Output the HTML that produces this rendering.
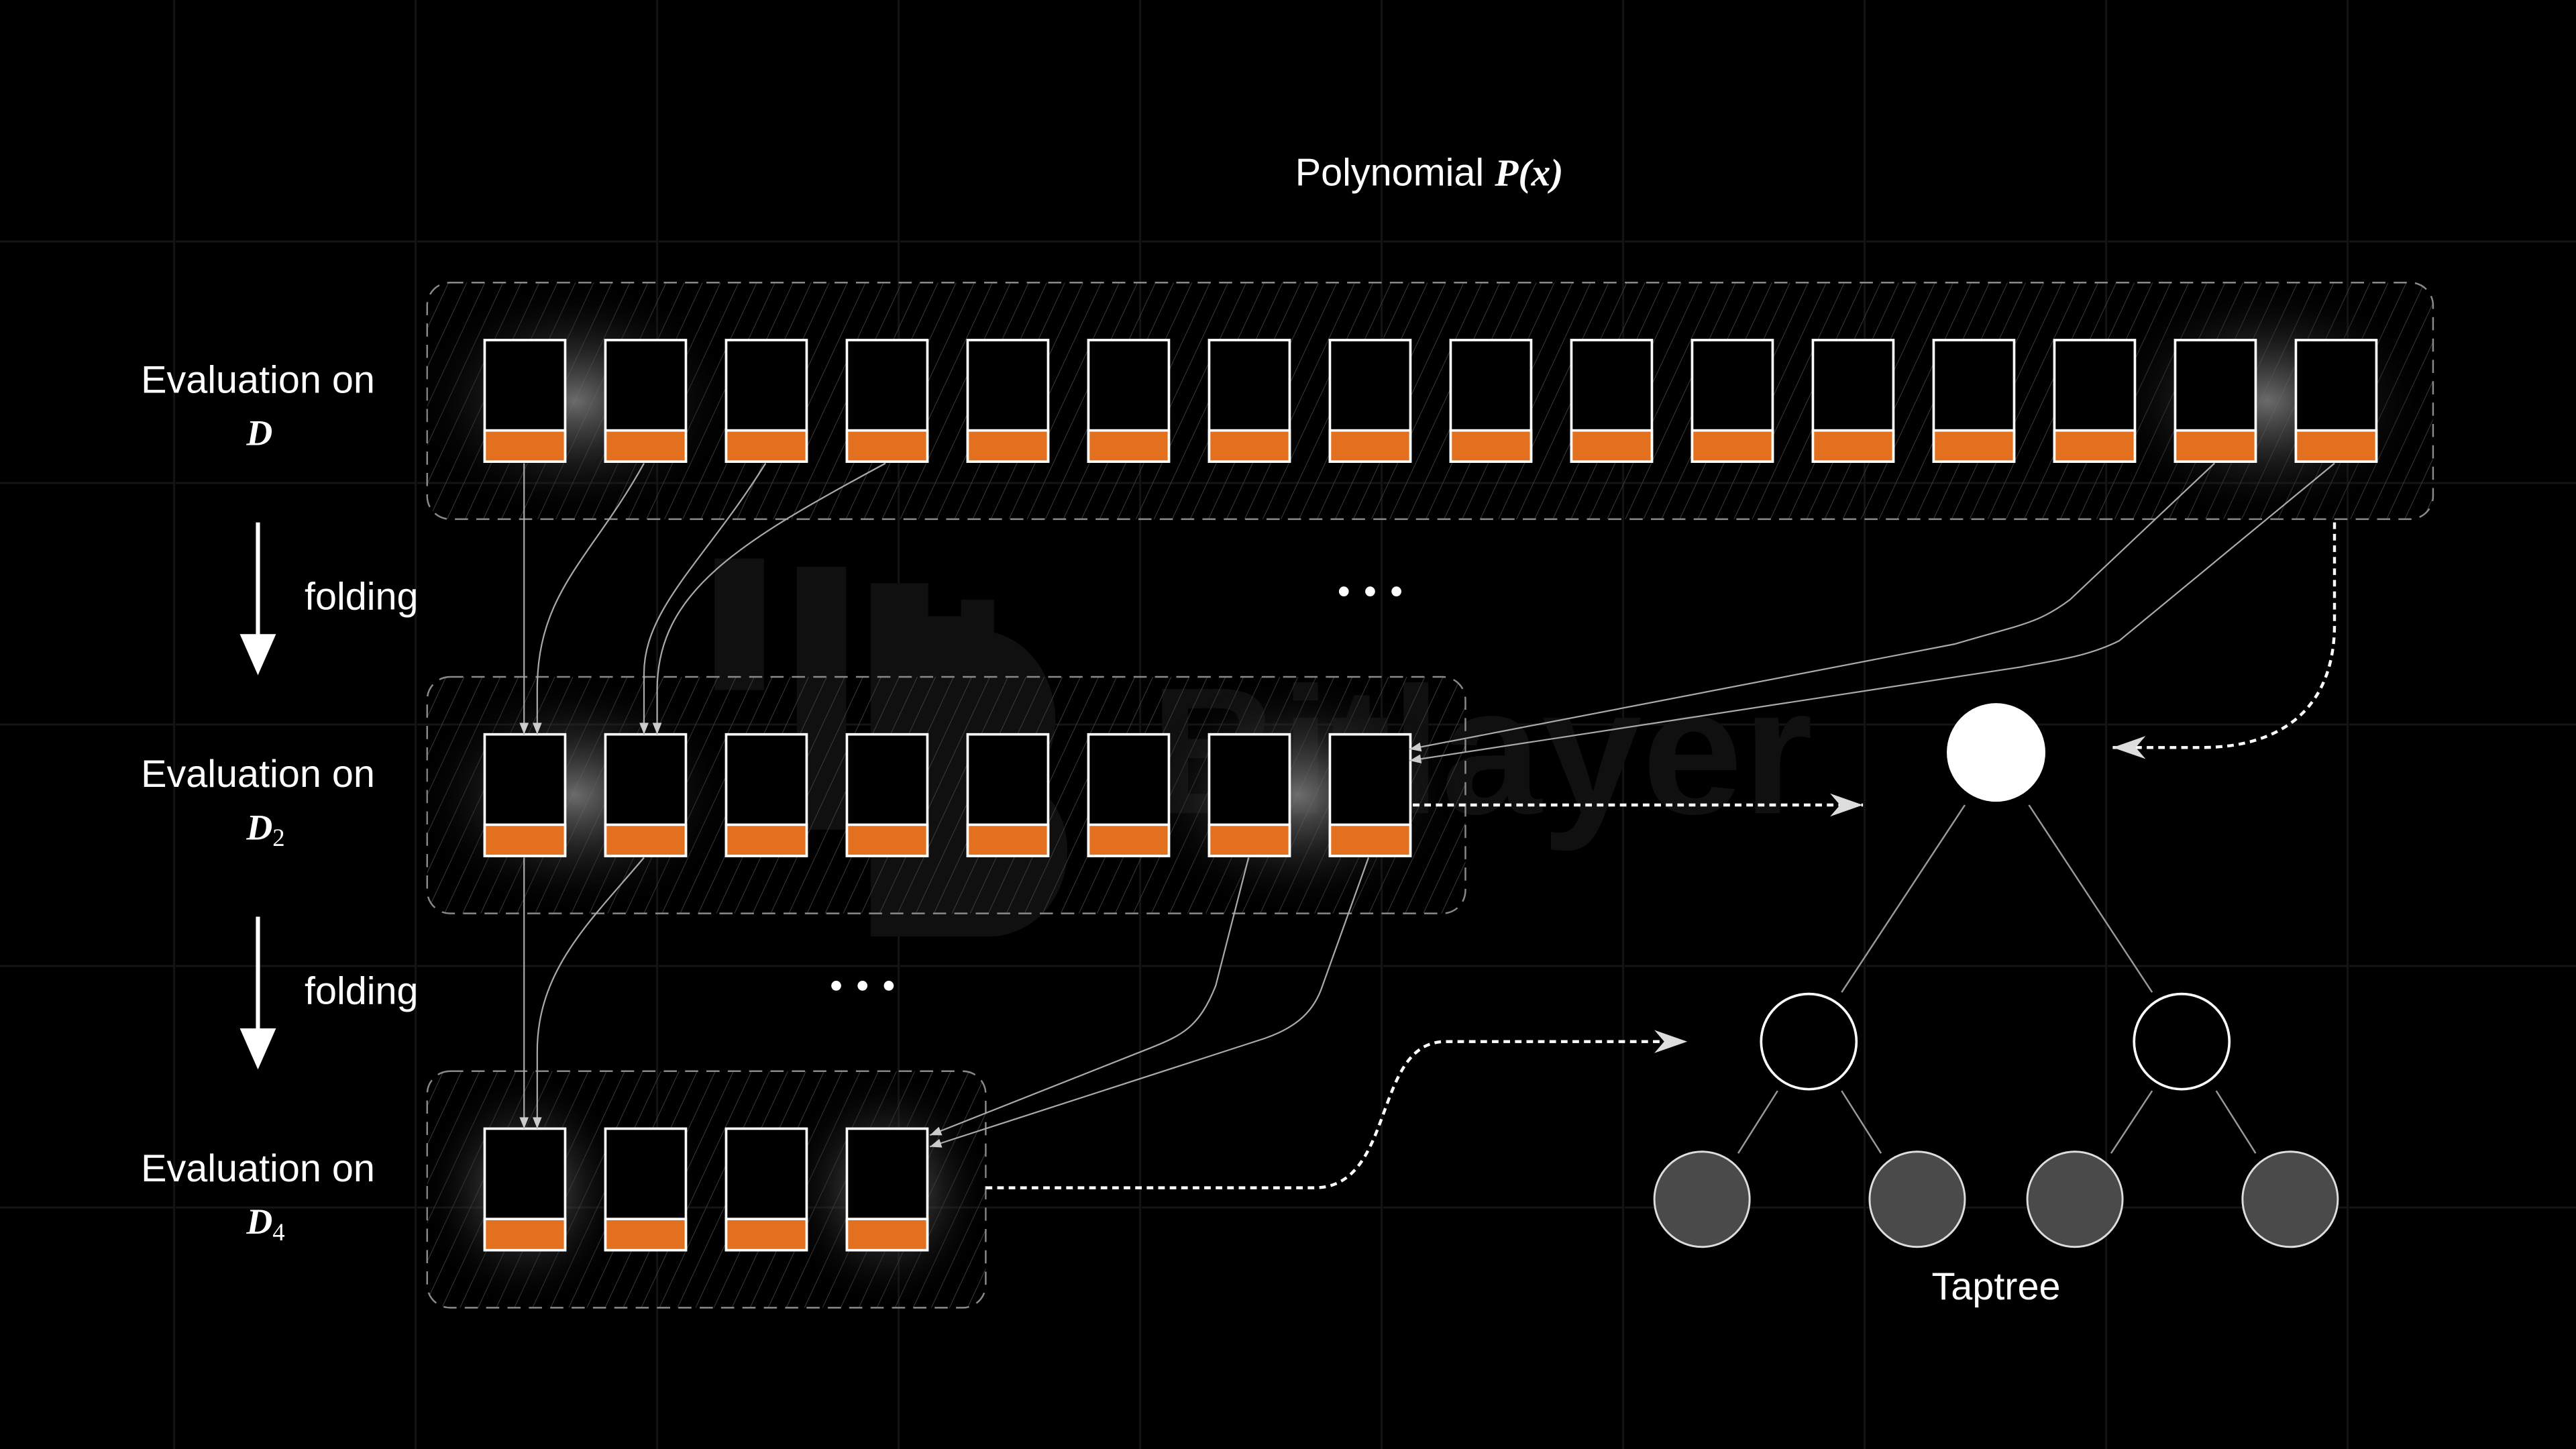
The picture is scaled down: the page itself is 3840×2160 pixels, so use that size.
<!DOCTYPE html>
<html><head><meta charset="utf-8"><style>
html,body{margin:0;padding:0;background:#000;width:3840px;height:2160px;overflow:hidden}
svg{display:block}
</style></head><body>
<svg width="3840" height="2160" viewBox="0 0 1568 882" xmlns="http://www.w3.org/2000/svg">
<defs>
<pattern id="hatch" width="10" height="10" patternUnits="userSpaceOnUse" patternTransform="rotate(25)">
<line x1="0" y1="0" x2="0" y2="10" stroke="#444" stroke-width="0.7"/>
</pattern>
<radialGradient id="glow"><stop offset="0" stop-color="#777" stop-opacity="0.9"/><stop offset="0.5" stop-color="#333" stop-opacity="0.5"/><stop offset="1" stop-color="#000" stop-opacity="0"/></radialGradient>
<marker id="ah" viewBox="0 0 10 10" refX="10" refY="5" markerWidth="7" markerHeight="7" orient="auto-start-reverse" markerUnits="userSpaceOnUse"><path d="M0,1 L10,5 L0,9 z" fill="#ccc"/></marker>
<marker id="ah2" viewBox="0 0 10 10" refX="10" refY="5" markerWidth="20" markerHeight="20" orient="auto" markerUnits="userSpaceOnUse"><path d="M0,1.5 L10,5 L0,8.5 L3,5 z" fill="#ddd"/></marker>
</defs>
<rect width="1568" height="882" fill="#000"/>
<g stroke="#141414" stroke-width="1.2">
<line x1="106" y1="0" x2="106" y2="882"/><line x1="253" y1="0" x2="253" y2="882"/><line x1="400" y1="0" x2="400" y2="882"/><line x1="547" y1="0" x2="547" y2="882"/><line x1="694" y1="0" x2="694" y2="882"/><line x1="841" y1="0" x2="841" y2="882"/><line x1="988" y1="0" x2="988" y2="882"/><line x1="1135" y1="0" x2="1135" y2="882"/><line x1="1282" y1="0" x2="1282" y2="882"/><line x1="1429" y1="0" x2="1429" y2="882"/>
<line x1="0" y1="147" x2="1568" y2="147"/><line x1="0" y1="294" x2="1568" y2="294"/><line x1="0" y1="441" x2="1568" y2="441"/><line x1="0" y1="588" x2="1568" y2="588"/><line x1="0" y1="735" x2="1568" y2="735"/>
</g>
<g fill="#101010">
<rect x="435" y="340" width="30" height="80"/><rect x="485" y="345" width="30" height="160"/>
<path d="M530,355 h35 v20 h20 v-10 h20 v20 c40,10 50,70 20,90 c40,20 30,90 -20,95 h-75 z"/>
</g>
<text x="700" y="495" font-family="Liberation Sans, sans-serif" font-size="110" font-weight="bold" fill="#101010">Bitlayer</text>
<g stroke="#8a8a8a" stroke-width="1" stroke-dasharray="8,5">
<rect x="260" y="172" width="1221" height="144" rx="14" fill="url(#hatch)"/>
<rect x="260" y="412" width="632" height="144" rx="14" fill="url(#hatch)"/>
<rect x="260" y="652" width="340" height="144" rx="14" fill="url(#hatch)"/>
</g>
<g fill="url(#glow)">
<ellipse cx="350" cy="244" rx="100" ry="75"/><ellipse cx="1380" cy="244" rx="100" ry="75"/>
<ellipse cx="350" cy="484" rx="100" ry="75"/><ellipse cx="790" cy="484" rx="100" ry="75"/>
<ellipse cx="320" cy="724" rx="65" ry="75"/><ellipse cx="540" cy="724" rx="65" ry="75"/>
</g>
<g id="boxes" stroke="#fff" stroke-width="1.5">
</g>
<script>
(function(){
var ns="http://www.w3.org/2000/svg",g=document.getElementById('boxes');
function box(x,y){
 var r=document.createElementNS(ns,'rect');r.setAttribute('x',x);r.setAttribute('y',y);r.setAttribute('width',49);r.setAttribute('height',74);r.setAttribute('fill','#000');g.appendChild(r);
 var o=document.createElementNS(ns,'rect');o.setAttribute('x',x);o.setAttribute('y',y+55);o.setAttribute('width',49);o.setAttribute('height',19);o.setAttribute('fill','#e3701f');g.appendChild(o);
}
for(var i=0;i<16;i++)box(295+73.5*i,207);
for(var i=0;i<8;i++)box(295+73.5*i,447);
for(var i=0;i<4;i++)box(295+73.5*i,687);
})();
</script>
<g fill="none" stroke="#aaa" stroke-width="0.9" marker-end="url(#ah)">
<path d="M319,282 L319,447"/>
<path d="M392,282 C360,340 327,360 327,420 L327,447"/>
<path d="M466,282 C430,340 392,370 392,410 L392,447"/>
<path d="M539,282 C450,330 400,360 400,420 L400,447"/>
<path d="M1348,282 L1260,365 C1240,380 1230,380 1190,392 L858,456"/>
<path d="M1421,282 L1290,390 C1270,400 1250,402 1230,406 L858,463"/>
<path d="M319,522 L319,687"/>
<path d="M392,522 C360,560 327,590 327,640 L327,687"/>
<path d="M760,522 L740,600 C730,625 720,630 700,638 L566,691"/>
<path d="M833,522 L805,600 C800,615 790,625 770,632 L566,698"/>
</g>
<g fill="none" stroke="#fff" stroke-width="1.8" stroke-dasharray="4,3" marker-end="url(#ah2)">
<path d="M1421,318 L1421,380 C1421,430 1390,455 1340,455 L1286,455"/>
<path d="M860,490 L1134,490"/>
<path d="M600,723 L800,723 C850,723 835,634 880,634 L1027,634"/>
</g>
<g stroke="#999" stroke-width="1">
<line x1="1196" y1="490" x2="1121" y2="604"/><line x1="1235" y1="490" x2="1310" y2="604"/>
<line x1="1082" y1="664" x2="1058" y2="702"/><line x1="1121" y1="664" x2="1145" y2="702"/>
<line x1="1310" y1="664" x2="1285" y2="702"/><line x1="1349" y1="664" x2="1373" y2="702"/>
</g>
<circle cx="1215" cy="458" r="30" fill="#fff"/>
<circle cx="1101" cy="634" r="29" fill="#000" stroke="#fff" stroke-width="1.5"/>
<circle cx="1328" cy="634" r="29" fill="#000" stroke="#fff" stroke-width="1.5"/>
<g fill="#4a4a4a" stroke="#ddd" stroke-width="1.2">
<circle cx="1036" cy="730" r="29"/><circle cx="1167" cy="730" r="29"/><circle cx="1263" cy="730" r="29"/><circle cx="1394" cy="730" r="29"/>
</g>
<g stroke="#fff" stroke-width="2.5"><line x1="157" y1="318" x2="157" y2="390"/><line x1="157" y1="558" x2="157" y2="630"/></g>
<g fill="#fff"><path d="M146,386 L168,386 L157,411 z"/><path d="M146,626 L168,626 L157,651 z"/></g>
<g font-family="Liberation Sans, sans-serif" fill="#fff" font-size="23.5">
<text x="870" y="113" text-anchor="middle">Polynomial <tspan font-family="Liberation Serif, serif" font-style="italic" font-weight="bold">P(x)</tspan></text>
<text x="157" y="239" text-anchor="middle">Evaluation on</text>
<text x="157" y="479" text-anchor="middle">Evaluation on</text>
<text x="157" y="719" text-anchor="middle">Evaluation on</text>
<text x="220" y="371" text-anchor="middle">folding</text>
<text x="220" y="611" text-anchor="middle">folding</text>
<text x="1215" y="791" text-anchor="middle">Taptree</text>
</g>
<g font-family="Liberation Serif, serif" font-style="italic" font-weight="bold" fill="#fff" font-size="22">
<text x="150" y="271">D</text>
<text x="150" y="511">D<tspan font-size="15" font-style="normal" font-weight="normal" dy="4">2</tspan></text>
<text x="150" y="751">D<tspan font-size="15" font-style="normal" font-weight="normal" dy="4">4</tspan></text>
</g>
<g fill="#fff"><circle cx="818" cy="360" r="3"/><circle cx="834" cy="360" r="3"/><circle cx="850" cy="360" r="3"/>
<circle cx="509" cy="600" r="3"/><circle cx="525" cy="600" r="3"/><circle cx="541" cy="600" r="3"/></g>
</svg>
</body></html>
